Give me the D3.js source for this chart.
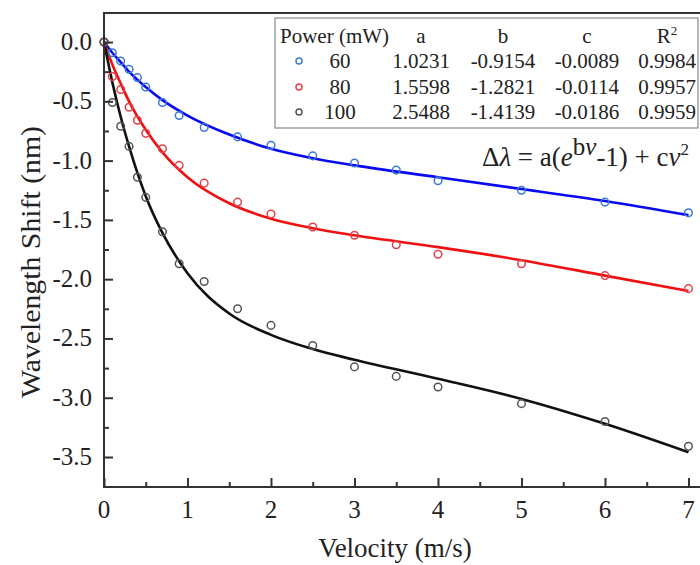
<!DOCTYPE html>
<html>
<head>
<meta charset="utf-8">
<script src="https://cdn.jsdelivr.net/npm/d3@7"></script>
<style>
  body { margin: 0; background: #fff; }
  text { font-family: "Liberation Serif", "Times New Roman", serif; fill: #222; }
</style>
</head>
<body>
<div id="chart"></div>
<script>
// measured velocities (m/s)
var velocity = [0, 0.1, 0.2, 0.3, 0.4, 0.5, 0.7, 0.9, 1.2, 1.6, 2.0, 2.5, 3, 3.5, 4, 5, 6, 7];

var shift60  = [0, -0.09, -0.16, -0.23, -0.30, -0.38, -0.51, -0.62, -0.72, -0.80, -0.87, -0.96, -1.02, -1.08, -1.17, -1.25, -1.35, -1.44];
var shift80  = [0, -0.29, -0.40, -0.55, -0.66, -0.77, -0.90, -1.04, -1.19, -1.35, -1.45, -1.56, -1.63, -1.71, -1.79, -1.87, -1.97, -2.08];
var shift100 = [0, -0.51, -0.71, -0.88, -1.14, -1.31, -1.60, -1.87, -2.02, -2.25, -2.39, -2.56, -2.74, -2.82, -2.91, -3.05, -3.20, -3.41];

// fitted curves
var fitV   = [0, 0.1, 0.2, 0.3, 0.5, 0.7, 1, 1.5, 2, 2.5, 3, 4, 5, 6, 7];
var fit60  = [0, -0.09, -0.17, -0.25, -0.38, -0.49, -0.62, -0.78, -0.90, -0.98, -1.04, -1.14, -1.24, -1.34, -1.46];
var fit80  = [0, -0.19, -0.35, -0.50, -0.74, -0.93, -1.14, -1.36, -1.49, -1.57, -1.63, -1.73, -1.84, -1.97, -2.10];
var fit100 = [0, -0.34, -0.63, -0.88, -1.30, -1.61, -1.95, -2.29, -2.47, -2.59, -2.68, -2.84, -3.01, -3.22, -3.46];

// legend table
var powers = ['60', '80', '100'];
var paramA = ['1.0231', '1.5598', '2.5488'];
var paramB = ['-0.9154', '-1.2821', '-1.4139'];
var paramC = ['-0.0089', '-0.0114', '-0.0186'];
var paramR2 = ['0.9984', '0.9957', '0.9959'];

var yTicks = [0, -0.5, -1.0, -1.5, -2.0, -2.5, -3.0, -3.5];
var xTicks = [0, 1, 2, 3, 4, 5, 6, 7];

var lineColors = ['#0a0af2', '#f01010', '#111111'];
var markColors = ['#3a7ad6', '#e2424c', '#555555'];

var width = 700, height = 565;
var svg = d3.select('#chart').append('svg')
  .attr('width', width)
  .attr('height', height);

var x = d3.scaleLinear().domain([0, 7.15]).range([104, 701]);
var y = d3.scaleLinear().domain([0.245, -3.753]).range([13, 487]);

var series = [shift60, shift80, shift100];
var fits = [fit60, fit80, fit100];

// fit lines
var line = d3.line()
  .x(function(d) { return x(d[0]); })
  .y(function(d) { return y(d[1]); })
  .curve(d3.curveMonotoneX);

fits.forEach(function(f, i) {
  svg.append('path')
    .datum(fitV.map(function(v, j) { return [v, f[j]]; }))
    .attr('d', line)
    .attr('fill', 'none')
    .attr('stroke', lineColors[i])
    .attr('stroke-width', 2.6);
});

// measured points
series.forEach(function(s, i) {
  svg.append('g').selectAll('circle')
    .data(velocity.map(function(v, j) { return [v, s[j]]; }))
    .enter().append('circle')
    .attr('cx', function(d) { return x(d[0]); })
    .attr('cy', function(d) { return y(d[1]); })
    .attr('r', 3.8)
    .attr('fill', 'none')
    .attr('stroke', markColors[i])
    .attr('stroke-width', 1.5);
});

// axes (ticks pointing inward)
var axisColor = '#333';
var yAxis = svg.append('g')
  .attr('transform', 'translate(104,0)')
  .call(d3.axisRight(y).tickValues(yTicks).tickSize(9).tickFormat(''));
var yMinor = svg.append('g')
  .attr('transform', 'translate(104,0)')
  .call(d3.axisRight(y).tickValues(d3.range(-0.25, -3.6, -0.5)).tickSize(5).tickFormat(''));
var xAxis = svg.append('g')
  .attr('transform', 'translate(0,487)')
  .call(d3.axisTop(x).tickValues(xTicks).tickSize(9).tickFormat(''));
var xMinor = svg.append('g')
  .attr('transform', 'translate(0,487)')
  .call(d3.axisTop(x).tickValues(d3.range(0.5, 7, 1)).tickSize(5).tickFormat(''));

[yAxis, yMinor, xAxis, xMinor].forEach(function(g) {
  g.select('.domain').remove();
  g.selectAll('line').attr('stroke', axisColor).attr('stroke-width', 2);
});

// frame
svg.append('line').attr('x1', 104).attr('x2', 104).attr('y1', 12).attr('y2', 488)
  .attr('stroke', axisColor).attr('stroke-width', 2);
svg.append('line').attr('x1', 103).attr('x2', 700).attr('y1', 487).attr('y2', 487)
  .attr('stroke', axisColor).attr('stroke-width', 2);
svg.append('line').attr('x1', 103).attr('x2', 700).attr('y1', 13).attr('y2', 13)
  .attr('stroke', axisColor).attr('stroke-width', 2);

// tick labels
svg.append('g').selectAll('text')
  .data(yTicks).enter().append('text')
  .attr('x', 92)
  .attr('y', function(d) { return y(d) + 8; })
  .attr('text-anchor', 'end')
  .style('font-size', '25px')
  .text(function(d) { return d3.format('.1f')(d).replace('−', '-'); });

svg.append('g').selectAll('text')
  .data(xTicks).enter().append('text')
  .attr('x', function(d) { return x(d); })
  .attr('y', 518)
  .attr('text-anchor', 'middle')
  .style('font-size', '25px')
  .text(function(d) { return d; });

// axis titles
svg.append('text')
  .attr('x', 395).attr('y', 557)
  .attr('text-anchor', 'middle')
  .style('font-size', '27px')
  .text('Velocity (m/s)');

svg.append('text')
  .attr('transform', 'translate(40,262) rotate(-90)')
  .attr('text-anchor', 'middle')
  .attr('textLength', 272)
  .attr('lengthAdjust', 'spacingAndGlyphs')
  .style('font-size', '28px')
  .text('Wavelength Shift (nm)');

// legend table
var leg = svg.append('g');
leg.append('rect')
  .attr('x', 275).attr('y', 18).attr('width', 423).attr('height', 110)
  .attr('fill', '#fff').attr('stroke', '#888').attr('stroke-width', 1.2);

var colX = [421, 503, 587, 667];
var rowY = [68, 94, 119];
leg.append('text').attr('x', 280).attr('y', 43).style('font-size', '21px').text('Power (mW)');
['a', 'b', 'c'].forEach(function(t, i) {
  leg.append('text').attr('x', colX[i]).attr('y', 43)
    .attr('text-anchor', 'middle').style('font-size', '21px').text(t);
});
var r2 = leg.append('text').attr('x', colX[3]).attr('y', 43)
  .attr('text-anchor', 'middle').style('font-size', '21px');
r2.append('tspan').text('R');
r2.append('tspan').attr('dy', -8).style('font-size', '13px').text('2');

powers.forEach(function(p, i) {
  leg.append('circle')
    .attr('cx', 299).attr('cy', rowY[i] - 7).attr('r', 3)
    .attr('fill', 'none').attr('stroke', markColors[i]).attr('stroke-width', 1.5);
  leg.append('text').attr('x', 340).attr('y', rowY[i])
    .attr('text-anchor', 'middle').style('font-size', '21px').text(p);
  [paramA, paramB, paramC, paramR2].forEach(function(col, k) {
    leg.append('text').attr('x', colX[k]).attr('y', rowY[i])
      .attr('text-anchor', 'middle').style('font-size', '21px').text(col[i]);
  });
});

// equation
var eq = svg.append('text')
  .attr('x', 482).attr('y', 166)
  .style('font-size', '27px');
eq.append('tspan').text('Δ');
eq.append('tspan').style('font-style', 'italic').text('λ');
eq.append('tspan').text(' = a(');
eq.append('tspan').style('font-style', 'italic').text('e');
eq.append('tspan').attr('dy', -11).style('font-size', '25px').text('b');
eq.append('tspan').style('font-size', '25px').style('font-style', 'italic').text('ν');
eq.append('tspan').attr('dy', 11).text('-1) + c');
eq.append('tspan').style('font-style', 'italic').text('ν');
eq.append('tspan').attr('dy', -11).style('font-size', '17px').text('2');
</script>
</body>
</html>
